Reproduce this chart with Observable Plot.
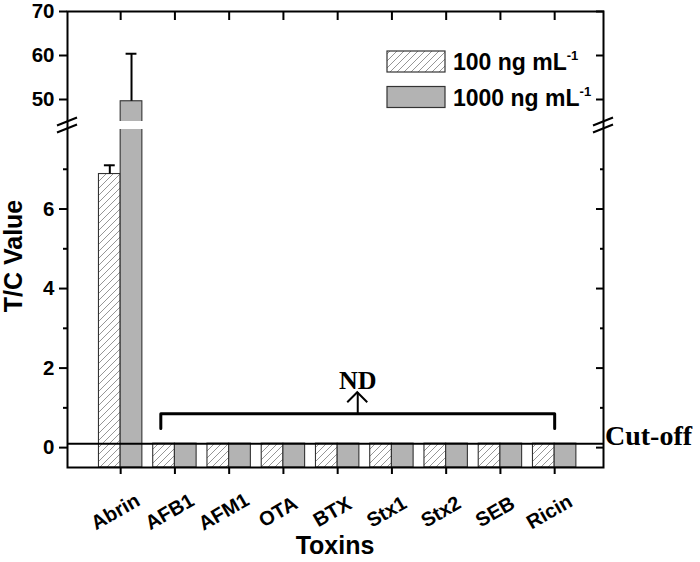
<!DOCTYPE html>
<html><head><meta charset="utf-8">
<script src="https://cdn.jsdelivr.net/npm/d3@7"></script>
<script src="https://cdn.jsdelivr.net/npm/@observablehq/plot@0.6"></script>
<style>body{margin:0;background:#fff}#chart{width:700px;height:562px}</style>
</head><body><div id="chart"></div>
<script>
// ---- data ----
const toxins = ["Abrin","AFB1","AFM1","OTA","BTX","Stx1","Stx2","SEB","Ricin"];
const seriesNames = ["100 ng mL", "1000 ng mL"];
const values100 = [6.88, 0.1, 0.1, 0.1, 0.1, 0.1, 0.1, 0.1, 0.1];
const values1000 = [49.6, 0.1, 0.1, 0.1, 0.1, 0.1, 0.1, 0.1, 0.1];
const err100 = [0.22, 0, 0, 0, 0, 0, 0, 0, 0];
const err1000 = [10.8, 0, 0, 0, 0, 0, 0, 0, 0];
const cutoff = 0.1;
const baseline = -0.5;
const breakLow = 8, breakHigh = 45, yTop = 70;
const yTicksMajor = [0, 2, 4, 6, 50, 60, 70];
const yTicksMinor = [1, 3, 5, 7];
const ndLabel = "ND";
const cutoffLabel = "Cut-off";
const xTitle = "Toxins";
const yTitle = "T/C Value";
const bracketX = [1.74, 9.0];
const bracketY = [0.48, 0.85];
const arrowTop = 1.38;
const ndY = 1.48;

// ---- build table ----
const barW = 0.4;
const bars = [];
toxins.forEach((t, i) => {
  const c = i + 1;
  bars.push({toxin: t, s: 0, x1: c - barW, x2: c, v: values100[i], e: err100[i]});
  bars.push({toxin: t, s: 1, x1: c, x2: c + barW, v: values1000[i], e: err1000[i]});
});
const errs = bars.filter(d => d.e > 0).map(d => ({xc: (d.x1 + d.x2) / 2, v: d.v, top: d.v + d.e}));
const gapBars = bars.filter(d => d.v > breakHigh);
const bracket = [
  {x: bracketX[0], y: bracketY[0]}, {x: bracketX[0], y: bracketY[1]},
  {x: bracketX[1], y: bracketY[1]}, {x: bracketX[1], y: bracketY[0]}
];
const mid = (bracketX[0] + bracketX[1]) / 2;
const idx = toxins.map((t, i) => i + 1);
const serif = "'Liberation Serif', 'Times New Roman', serif";

const chart = Plot.plot({
  width: 700, height: 562,
  marginLeft: 67, marginRight: 97, marginTop: 11, marginBottom: 95,
  style: {fontFamily: "'Liberation Sans', Arial, sans-serif", fontWeight: "bold", fontSize: "20px", color: "#000", background: "#fff"},
  x: {type: "linear", domain: [0.02, 9.9], range: [67, 603]},
  y: {type: "linear", domain: [baseline, breakLow, breakHigh, yTop], range: [467, 129, 121, 11]},
  marks: [
    Plot.rect(bars, {x1: "x1", x2: "x2", y1: baseline, y2: "v",
      fill: d => d.s === 0 ? "url(#hatch100)" : "#b3b3b3", stroke: "#333", strokeWidth: 1.1}),
    Plot.rect(gapBars, {x1: "x1", x2: "x2", y1: breakLow, y2: breakHigh, fill: "#fff", insetLeft: -2, insetRight: -2}),
    Plot.ruleX(errs, {x: "xc", y1: "v", y2: "top", strokeWidth: 2}),
    Plot.ruleY(errs, {y: "top", x1: d => d.xc - 0.1, x2: d => d.xc + 0.1, strokeWidth: 2}),
    Plot.ruleY([cutoff], {strokeWidth: 2}),
    Plot.line(bracket, {x: "x", y: "y", strokeWidth: 3}),
    Plot.ruleX([mid], {x: d => d, y1: bracketY[1], y2: arrowTop, strokeWidth: 2}),
    Plot.text([ndLabel], {x: mid, y: ndY, text: d => d, lineAnchor: "bottom", fontFamily: serif, fontWeight: "bold", fontSize: 26}),
    Plot.frame({strokeWidth: 2}),
    Plot.axisX({ticks: idx, tickSize: 7, tickFormat: () => "", label: null, strokeWidth: 2}),
    Plot.axisX({anchor: "top", ticks: idx, tickSize: -8, tickFormat: () => "", label: null, strokeWidth: 2}),
    Plot.axisY({ticks: yTicksMajor, tickSize: 8, tickPadding: 5, label: null, strokeWidth: 2, fontSize: 20.5}),
    Plot.axisY({ticks: yTicksMinor, tickSize: 4, tickFormat: () => "", label: null, strokeWidth: 2}),
    Plot.axisY({anchor: "right", ticks: yTicksMajor, tickSize: -8, tickFormat: () => "", label: null, strokeWidth: 2}),
    Plot.axisY({anchor: "right", ticks: yTicksMinor, tickSize: -4, tickFormat: () => "", label: null, strokeWidth: 2}),
    Plot.text(toxins, {x: (d, i) => i + 1, frameAnchor: "bottom", text: d => d, rotate: -30, dx: -2, dy: 50, fontSize: 20})
  ]
});

const svg = d3.select(chart);
const ys = chart.scale("y"), xs = chart.scale("x");
// hatch pattern
const defs = svg.insert("defs", ":first-child");
const pat = defs.append("pattern").attr("id", "hatch100").attr("patternUnits", "userSpaceOnUse")
  .attr("width", 7).attr("height", 7);
pat.append("rect").attr("width", 7).attr("height", 7).attr("fill", "#fff");
pat.append("path").attr("d", "M-1,1 l2,-2 M0,7 l7,-7 M6,8 l2,-2").attr("stroke", "#8a8a8a").attr("stroke-width", 0.9);

// arrowhead (open chevron) on ND arrow
const ax = xs.apply(mid), ay = ys.apply(arrowTop);
svg.append("path").attr("d", `M${ax - 10},${ay + 10}L${ax},${ay}L${ax + 10},${ay + 10}`)
  .attr("fill", "none").attr("stroke", "#000").attr("stroke-width", 2);

// axis break marks
const yb = (ys.apply(breakLow) + ys.apply(breakHigh)) / 2;
[xs.apply(0.02), xs.apply(9.9)].forEach(x => {
  [-3.5, 3.5].forEach(off => {
    svg.append("line").attr("x1", x - 10).attr("y1", yb + off + 4).attr("x2", x + 10).attr("y2", yb + off - 4)
      .attr("stroke", "#000").attr("stroke-width", 2);
  });
});

// cut-off label
svg.append("text").attr("x", 605).attr("y", ys.apply(cutoff) + 2).attr("text-anchor", "start")
  .attr("font-family", serif).attr("font-weight", "bold").attr("font-size", 28).text(cutoffLabel);

// axis titles
svg.append("text").attr("x", 335).attr("y", 554).attr("text-anchor", "middle")
  .attr("font-size", 25).attr("font-weight", "bold").text(xTitle);
svg.append("text").attr("transform", "translate(22,256) rotate(-90)").attr("text-anchor", "middle")
  .attr("font-size", 25).attr("font-weight", "bold").text(yTitle);

// legend
const lg = svg.append("g").attr("font-family", "'Liberation Sans', Arial, sans-serif").attr("font-weight", "bold")
  .attr("text-anchor", "start");
seriesNames.forEach((name, i) => {
  const y0 = 51 + i * 35.5;
  lg.append("rect").attr("x", 387).attr("y", y0).attr("width", 58).attr("height", 21)
    .attr("fill", i === 0 ? "url(#hatch100)" : "#b3b3b3").attr("stroke", "#333").attr("stroke-width", 1.2);
  const t = lg.append("text").attr("x", 453).attr("y", y0 + 19).attr("font-size", 23);
  t.append("tspan").text(name);
  t.append("tspan").attr("font-size", 13).attr("dy", -10).text("-1");
});

document.getElementById("chart").appendChild(chart);
</script>
</body></html>
